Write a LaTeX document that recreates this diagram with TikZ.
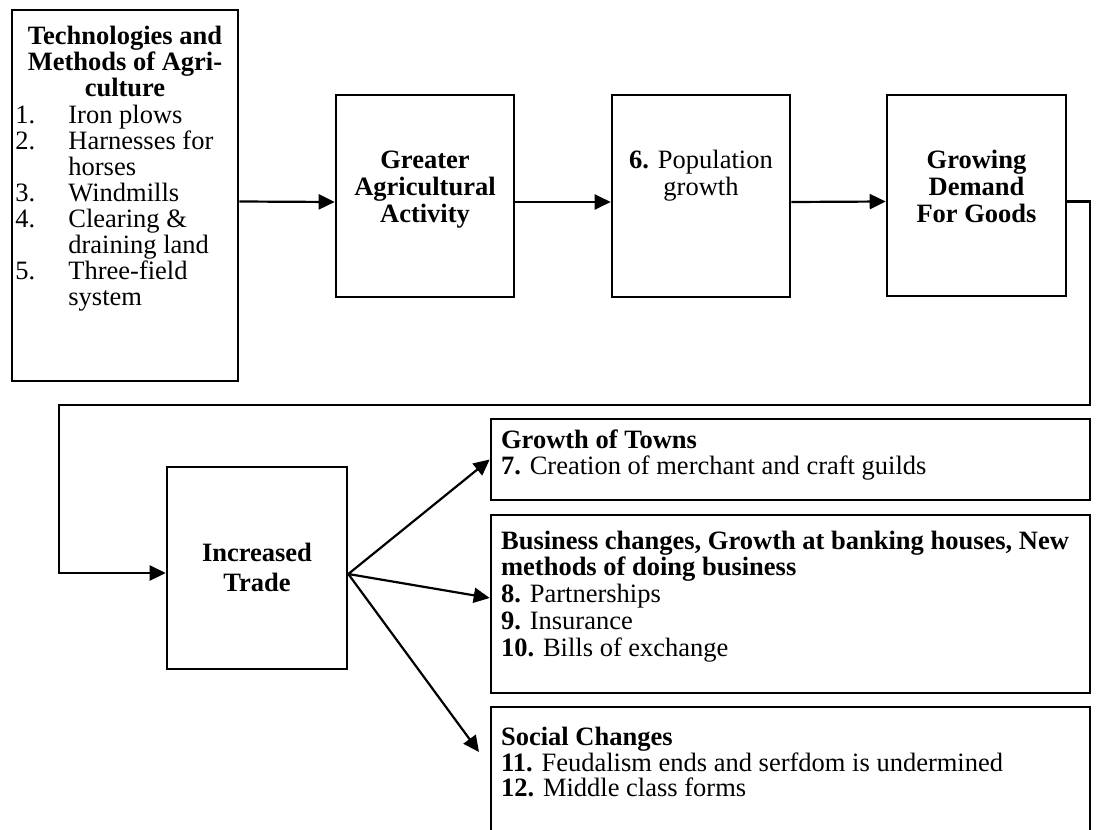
\documentclass[tikz,border=0pt]{standalone}
\usepackage{fontspec}
\setmainfont{Liberation Serif}
\usepackage{tikz}
\usetikzlibrary{arrows.meta,positioning}
\tikzset{myblock/.style={draw,line width=1.3pt,rectangle,inner sep=0pt},
mylabel/.style={inner sep=0pt,align=left,font=\fontsize{13.25}{13.2}\selectfont},
mytitle/.style={inner sep=0pt,align=center,font=\fontsize{13.25}{13}\selectfont\bfseries},
mycenter/.style={inner sep=0pt,align=center,font=\fontsize{13.25}{13.5}\selectfont\bfseries},
myarrow/.style={line width=1.1pt,-{Triangle[length=8pt,width=7.5pt]}}}
\newcommand\numitem[1]{\makebox[26.5pt][l]{#1}}
\newcommand\topstrut{\rule{0pt}{0.7\baselineskip}}

\begin{document}
\begin{tikzpicture}[x=0.5pt,y=-0.5pt]
\clip (0,0) rectangle (1096,829);

% top row
\node[myblock,minimum width=113pt,minimum height=185.5pt] (tech) at (125,195.5){};
\node[myblock,minimum width=89pt,minimum height=101pt] (agri) at (425,196){};
\node[myblock,minimum width=89pt,minimum height=101pt] (pop) at (701,196){};
\node[myblock,minimum width=89.5pt,minimum height=100.5pt] (demand) at (976.5,195.5){};

\node[mytitle,below=8.7pt of tech.north] (techhead) {\topstrut Technologies and\\Methods of Agri-\\culture};
\node[mylabel,font=\fontsize{13.25}{13}\selectfont,anchor=north west] (techlist) at (15,104.8) {\topstrut\numitem{1.}Iron plows\\
\numitem{2.}Harnesses for\\
\hspace*{26.5pt}horses\\
\numitem{3.}Windmills\\
\numitem{4.}Clearing \&\\
\hspace*{26.5pt}draining land\\
\numitem{5.}Three-field\\
\hspace*{26.5pt}system};
\node[mycenter,below=27.75pt of agri.north] (agritext) {\topstrut Greater\\Agricultural\\Activity};
\node[mylabel,align=center,font=\fontsize{13.25}{13.5}\selectfont,below=27.75pt of pop.north] (poptext) {\topstrut\textbf{6.} Population\\growth};
\node[mycenter,below=27.75pt of demand.north] (demandtext) {\topstrut Growing\\Demand\\For Goods};

% bottom part
\node[myblock,minimum width=90pt,minimum height=101pt] (trade) at (257,568){};
\node[mycenter,font=\fontsize{13.25}{15}\selectfont\bfseries,below=37pt of trade.north] (tradetext) {\topstrut Increased\\Trade};

\node[myblock,minimum width=299.5pt,minimum height=40.5pt] (towns) at (790.5,459.5){};
\node[myblock,minimum width=299.5pt,minimum height=89pt] (business) at (790.5,604){};
\node[myblock,minimum width=299.5pt,minimum height=75pt] (social) at (790.5,782){};

\node[mylabel,below right=5.8pt and 5.5pt of towns.north west] (townstext) {\topstrut\textbf{Growth of Towns}\\
\textbf{7.} Creation of merchant and craft guilds};
\node[mylabel,font=\fontsize{13.25}{13.4}\selectfont,below right=8.1pt and 5.5pt of business.north west] (businesstext) {\topstrut\textbf{Business changes, Growth at banking houses, New}\\
\textbf{methods of doing business}\\
\textbf{8.} Partnerships\\
\textbf{9.} Insurance\\
\textbf{10.} Bills of exchange};
\node[mylabel,font=\fontsize{13.25}{12.75}\selectfont,below right=10.7pt and 5.5pt of social.north west] (socialtext) {\topstrut\textbf{Social Changes}\\
\textbf{11.} Feudalism ends and serfdom is undermined\\
\textbf{12.} Middle class forms};

% connectors
\draw[myarrow] ([yshift=-3pt]tech.east) -- ([yshift=-3pt]agri.west);
\draw[myarrow] ([yshift=-3pt]agri.east) -- ([yshift=-3pt]pop.west);
\draw[myarrow] ([yshift=-3pt]pop.east) -- ([yshift=-3pt]demand.west);

\coordinate (loopright) at (1090,405);
\coordinate (loopleft) at (59,573);
\draw[myarrow,line width=1.3pt] ([yshift=-3pt]demand.east) -| (loopright) -| (loopleft) -- ([yshift=-2.5pt]trade.west);

\coordinate (fork) at ([yshift=-3pt]trade.east);
\coordinate (socialtip) at (479,752);
\draw[myarrow] (fork) -- (towns.west);
\draw[myarrow] (fork) -- ([yshift=3pt]business.west);
\draw[myarrow] (fork) -- (socialtip);
\end{tikzpicture}
\end{document}
